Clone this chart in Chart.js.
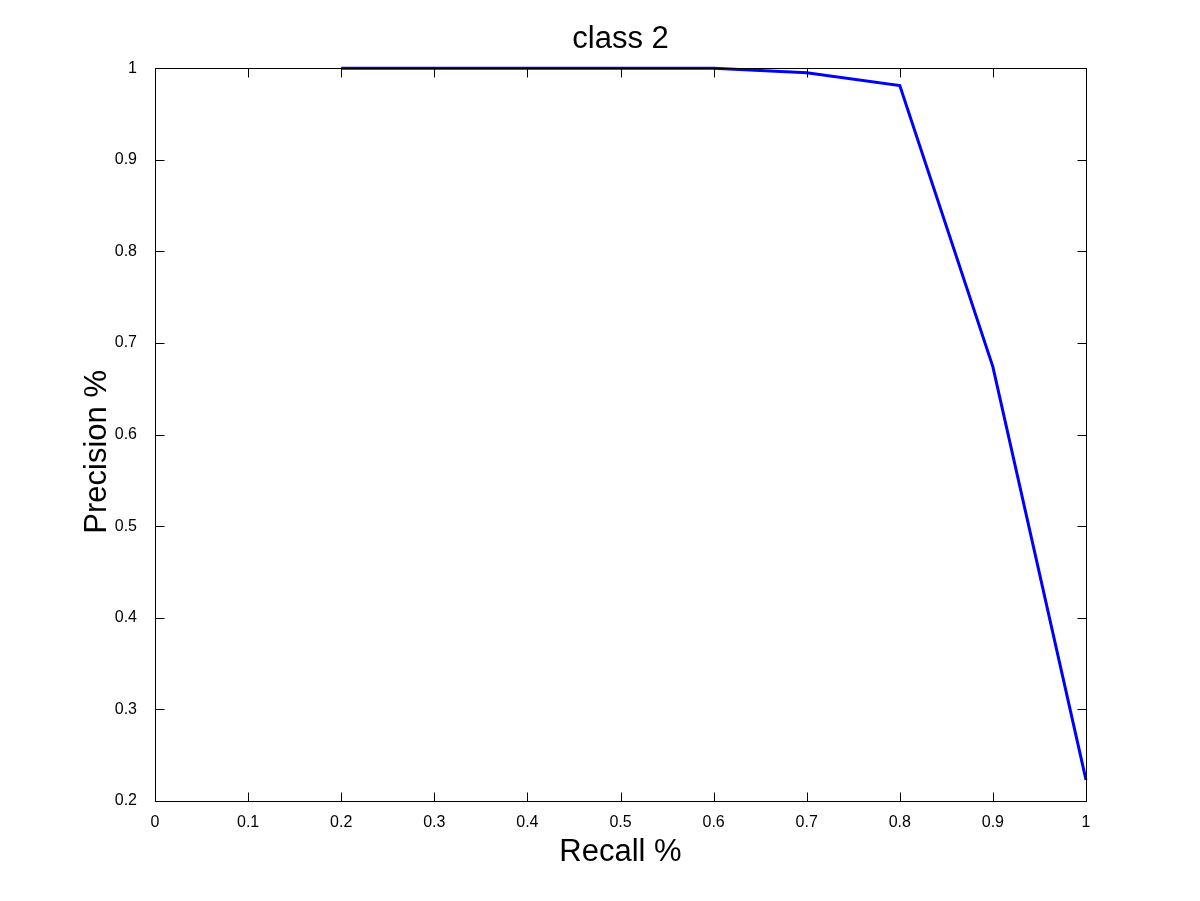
<!DOCTYPE html>
<html>
<head>
<meta charset="utf-8">
<script src="https://cdn.jsdelivr.net/npm/chart.js@4/dist/chart.umd.min.js"></script>
<style>
  body { margin: 0; background: #fff; }
  #wrap { width: 1200px; height: 901px; }
</style>
</head>
<body>
<div id="wrap"><canvas id="prChart"></canvas></div>
<script>
const recall = [0.2, 0.3, 0.4, 0.5, 0.6, 0.7, 0.8, 0.9, 1.0];
const precision = [1, 1, 1, 1, 1, 0.995, 0.981, 0.674, 0.223];
const xTicks = [0, 0.1, 0.2, 0.3, 0.4, 0.5, 0.6, 0.7, 0.8, 0.9, 1];
const yTicks = [0.2, 0.3, 0.4, 0.5, 0.6, 0.7, 0.8, 0.9, 1];

const fontFamily = "'Liberation Sans', Arial, sans-serif";

function fmt(v) {
    return String(Number(v.toFixed(1)));
}

// MATLAB style box with inward ticks on all four sides
const boxPlugin = {
    id: "box",
    afterLayout(chart) {
        // centre the title over the plot area, not the whole canvas
        if (chart.titleBlock) {
            chart.titleBlock.left = chart.chartArea.left;
            chart.titleBlock.right = chart.chartArea.right;
        }
    },
    afterDatasetsDraw(chart) {
        const ctx = chart.ctx;
        const a = chart.chartArea;
        const xs = chart.scales.x;
        const ys = chart.scales.y;
        const len = 9;
        ctx.save();
        ctx.strokeStyle = "#000";
        ctx.lineWidth = 1;
        ctx.beginPath();
        const l = Math.round(a.left) + 0.5, r = Math.round(a.right) + 0.5;
        const t = Math.round(a.top) + 0.5, b = Math.round(a.bottom) + 0.5;
        ctx.rect(l, t, r - l, b - t);
        xTicks.forEach(v => {
            const px = Math.round(xs.getPixelForValue(v)) + 0.5;
            ctx.moveTo(px, b); ctx.lineTo(px, b - len);
            ctx.moveTo(px, t); ctx.lineTo(px, t + len);
        });
        yTicks.forEach(v => {
            const py = Math.round(ys.getPixelForValue(v)) + 0.5;
            ctx.moveTo(l, py); ctx.lineTo(l + len, py);
            ctx.moveTo(r, py); ctx.lineTo(r - len, py);
        });
        ctx.stroke();
        ctx.restore();
    }
};

new Chart(document.getElementById("prChart"), {
    type: "line",
    data: {
        datasets: [{
            data: recall.map((x, i) => ({ x: x, y: precision[i] })),
            borderColor: "#0000ff",
            borderWidth: 3,
            pointRadius: 0,
            tension: 0,
            fill: false,
            clip: false
        }]
    },
    options: {
        responsive: true,
        maintainAspectRatio: false,
        animation: false,
        layout: { padding: { left: 0, right: 114, top: 0, bottom: 0 } },
        plugins: {
            legend: { display: false },
            tooltip: { enabled: false },
            title: {
                display: true,
                text: "class 2",
                color: "#000",
                font: { family: fontFamily, size: 31, weight: "normal", lineHeight: 1.2 },
                padding: { top: 21, bottom: 10 }
            }
        },
        scales: {
            x: {
                type: "linear",
                min: 0,
                max: 1,
                afterBuildTicks: s => { s.ticks = xTicks.map(v => ({ value: v })); },
                afterFit: s => { s.height = 100; },
                ticks: {
                    color: "#000",
                    padding: 4,
                    maxRotation: 0,
                    autoSkip: false,
                    font: { family: fontFamily, size: 16 },
                    callback: v => fmt(v)
                },
                grid: { display: false },
                border: { display: false },
                title: {
                    display: true,
                    text: "Recall %",
                    color: "#000",
                    font: { family: fontFamily, size: 31, lineHeight: 1.2 },
                    padding: { top: 0, bottom: 30 }
                }
            },
            y: {
                type: "linear",
                min: 0.2,
                max: 1,
                afterBuildTicks: s => { s.ticks = yTicks.map(v => ({ value: v })); },
                afterFit: s => { s.width = 155; },
                ticks: {
                    color: "#000",
                    padding: 10,
                    autoSkip: false,
                    font: { family: fontFamily, size: 16 },
                    callback: v => fmt(v)
                },
                grid: { display: false },
                border: { display: false },
                title: {
                    display: true,
                    text: "Precision %    ",
                    color: "#000",
                    font: { family: fontFamily, size: 31, lineHeight: 1.2 },
                    padding: { top: 79, bottom: 0 }
                }
            }
        }
    },
    plugins: [boxPlugin]
});
</script>
</body>
</html>
